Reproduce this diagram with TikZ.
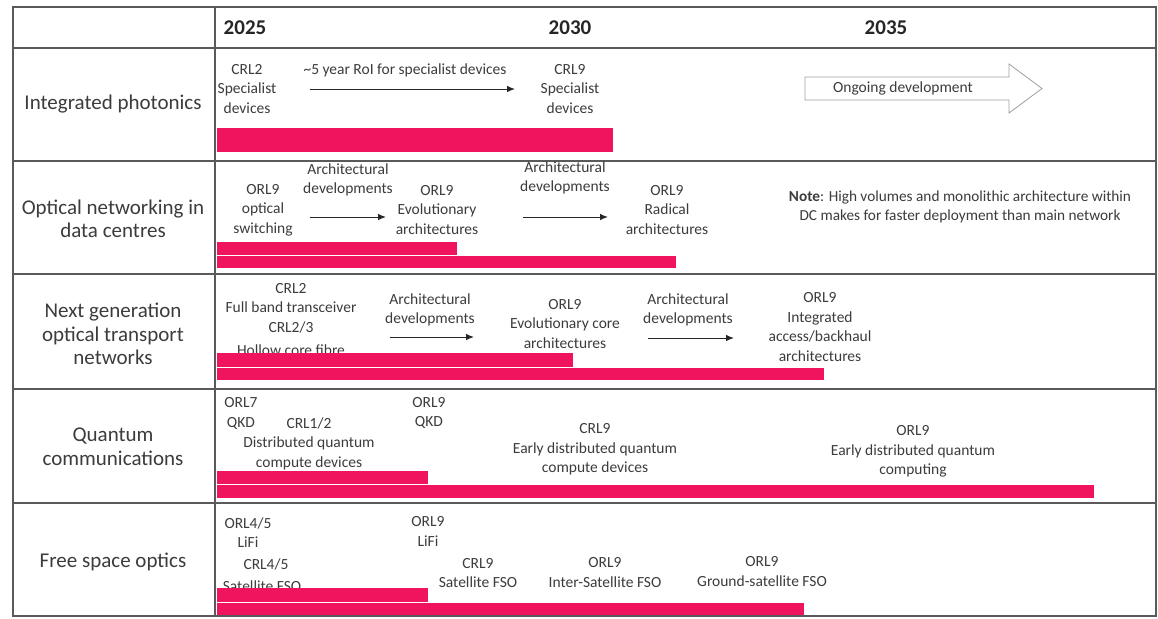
\documentclass[tikz,border=0pt]{standalone}
\usepackage{fontspec}
\setmainfont{Carlito}
\usetikzlibrary{arrows.meta}
\definecolor{pinkbar}{HTML}{F0145E}
\definecolor{txt}{HTML}{3C3C3C}
\definecolor{gridc}{HTML}{5A5A5A}
\begin{document}
\begin{tikzpicture}[x=1pt,y=-1pt,
  lbl/.style={font=\fontsize{21}{23.5}\selectfont, text=txt, align=center, inner sep=0pt},
  yr/.style={font=\bfseries\fontsize{21}{24}\selectfont, text=black!85, inner sep=0pt},
  sm/.style={font=\fontsize{15.5}{19.5}\selectfont, text=txt, align=center, inner sep=0pt},
  bar/.style={fill=pinkbar, draw=none},
  arr/.style={-{Latex[length=8pt,width=6.5pt]}, line width=1pt, black!85},
  gridline/.style={draw=gridc, line width=1.4pt}]
\useasboundingbox (0,0) rectangle (1158,618);
\fill[white] (0,0) rectangle (1158,618);
% grid
\draw[gridline] (13,7) rectangle (1156,616);
\draw[gridline] (215,7) -- (215,616);
\foreach \yy in {48,161,274,389,503}{\draw[gridline] (13,\yy) -- (1156,\yy);}
% years
\node[yr] (y25) at (245,28) {2025};
\node[yr] (y30) at (570,28) {2030};
\node[yr] (y35) at (886,28) {2035};
% row labels
\node[lbl] (l1) at (113,104) {Integrated photonics};
\node[lbl] (l2) at (113,219) {Optical networking in\\data centres};
\node[lbl] (l3) at (113,334) {Next generation\\optical transport\\networks};
\node[lbl] (l4) at (113,447) {Quantum\\communications};
\node[lbl] (l5) at (113,562) {Free space optics};
% row 1
\node[sm] (r1a) at (247,89) {CRL2\\Specialist\\devices};
\node[sm] (r1t) at (405,70) {\textasciitilde5 year RoI for specialist devices};
\node[sm] (r1b) at (570,89) {CRL9\\Specialist\\devices};
\coordinate (r1s) at (310,89);
\coordinate (r1e) at (515,89);
\draw[arr] (r1s) -- (r1e);
\draw[draw=gray!75, line width=0.8pt, fill=white] (805,77) -- (1009,77) -- (1009,64) -- (1042,88.5) -- (1009,113) -- (1009,100) -- (805,100) -- cycle;
\node[sm] (r1o) at (903,88) {Ongoing development};
\fill[bar] (217,128) rectangle (613,152);
% row 2
\node[sm] (r2t1) at (348,180) {Architectural\\developments};
\node[sm] (r2a) at (263,210) {ORL9\\optical\\switching};
\node[sm] (r2b) at (437,210) {ORL9\\Evolutionary\\architectures};
\node[sm] (r2t2) at (565,178) {Architectural\\developments};
\node[sm] (r2c) at (667,210) {ORL9\\Radical\\architectures};
\coordinate (r2s1) at (310,217); \coordinate (r2e1) at (386,217);
\coordinate (r2s2) at (523,217); \coordinate (r2e2) at (608,217);
\draw[arr] (r2s1) -- (r2e1);
\draw[arr] (r2s2) -- (r2e2);
\node[sm, font=\fontsize{15.3}{19}\selectfont] (r2n) at (960,206.5) {\textbf{Note}: High volumes and monolithic architecture within\\DC makes for faster deployment than main network};
\fill[bar] (217,242) rectangle (457,254.5);
\fill[bar] (217,256) rectangle (676,268);
% row 3
\node[sm] (r3a) at (291,308) {CRL2\\Full band transceiver\\CRL2/3};
\node[sm] (r3h) at (291,350) {Hollow core fibre};
\node[sm] (r3t1) at (430,310) {Architectural\\developments};
\node[sm] (r3b) at (565,324) {ORL9\\Evolutionary core\\architectures};
\node[sm] (r3t2) at (688,310) {Architectural\\developments};
\node[sm] (r3c) at (820,327) {ORL9\\Integrated\\access/backhaul\\architectures};
\coordinate (r3s1) at (390,337); \coordinate (r3e1) at (474,337);
\coordinate (r3s2) at (648,338); \coordinate (r3e2) at (734,338);
\draw[arr] (r3s1) -- (r3e1);
\draw[arr] (r3s2) -- (r3e2);
\fill[bar] (217,353) rectangle (573,366.5);
\fill[bar] (217,368) rectangle (824,380);
% row 4
\node[sm] (r4a) at (241,413.5) {ORL7\\QKD};
\node[sm] (r4b) at (309,443.5) {CRL1/2\\Distributed quantum\\compute devices};
\node[sm] (r4c) at (429,413) {ORL9\\QKD};
\node[sm] (r4d) at (595,449.5) {CRL9\\Early distributed quantum\\compute devices};
\node[sm] (r4e) at (913,451.5) {ORL9\\Early distributed quantum\\computing};
\fill[bar] (217,471) rectangle (428,483.5);
\fill[bar] (217,485) rectangle (1094,498);
% row 5
\node[sm] (r5a) at (248,532.5) {ORL4/5\\LiFi};
\node[sm] (r5b) at (428,531.5) {ORL9\\LiFi};
\node[sm] (r5c) at (266,564) {CRL4/5};
\node[sm] (r5g) at (262,586) {Satellite FSO};
\node[sm] (r5d) at (478,573) {CRL9\\Satellite FSO};
\node[sm] (r5e) at (605,572.5) {ORL9\\Inter-Satellite FSO};
\node[sm] (r5f) at (762,571.5) {ORL9\\Ground-satellite FSO};
\fill[bar] (217,588) rectangle (428,601.5);
\fill[bar] (217,603) rectangle (804,615);
\end{tikzpicture}
\end{document}
